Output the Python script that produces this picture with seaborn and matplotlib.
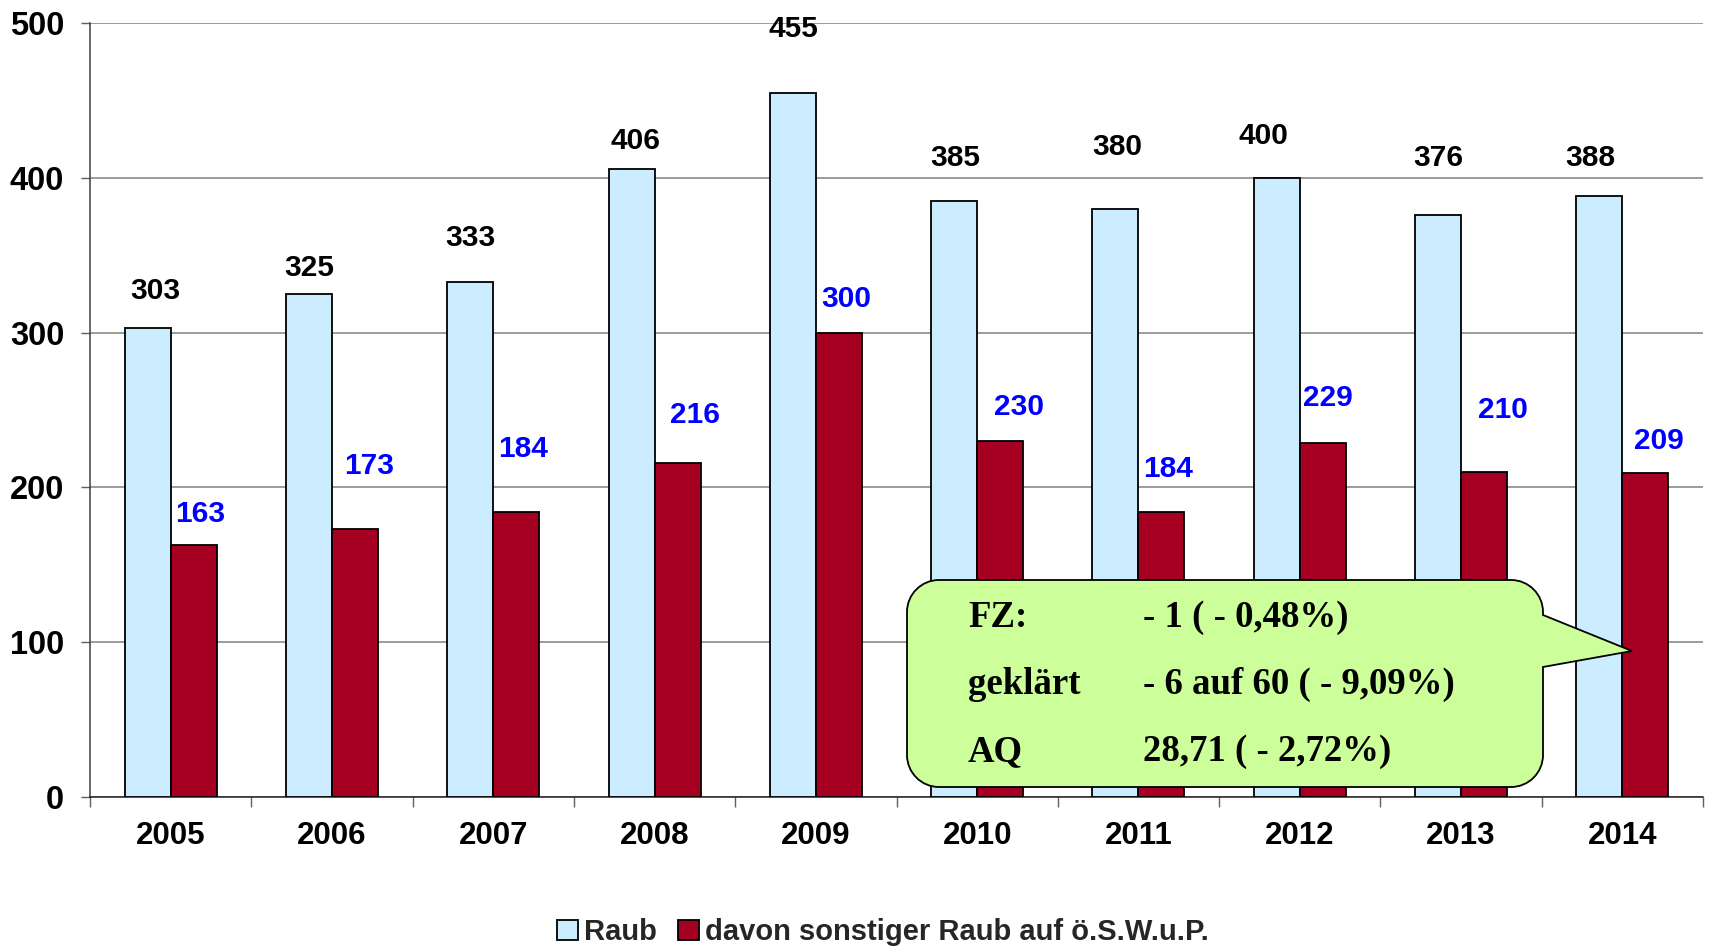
import matplotlib
matplotlib.use("Agg")
import matplotlib.pyplot as plt
import matplotlib.transforms as mtransforms
from matplotlib.path import Path
from matplotlib.patches import PathPatch, Patch
import seaborn as sns
import pandas as pd

# ---------------- data ----------------
years = ["2005", "2006", "2007", "2008", "2009", "2010", "2011", "2012", "2013", "2014"]
raub = [303, 325, 333, 406, 455, 385, 380, 400, 376, 388]
sonstiger = [163, 173, 184, 216, 300, 230, 184, 229, 210, 209]
series_names = ["Raub", "davon sonstiger Raub auf ö.S.W.u.P."]
y_ticks = [0, 100, 200, 300, 400, 500]

callout_rows = [("FZ:", "- 1 ( - 0,48%)"),
                ("geklärt", "- 6 auf 60 ( - 9,09%)"),
                ("AQ", "28,71 ( - 2,72%)")]

# label placement tweaks (style only): x shift in category units, y shift in value units
raub_lbl_dx = [0.05, 0, 0, 0.025, 0.005, 0.005, 0.01, -0.08, 0, -0.055]
raub_lbl_dy = [24, 17, 28, 18, 41, 28, 40, 27, 37, 25]
son_lbl_dx = [0.04, 0.09, 0.045, 0.11, 0.045, 0.12, 0.04, 0.03, 0.12, 0.085]
son_lbl_dy = [20, 41, 41, 31, 22, 22, 28, 29, 40, 21]

df = pd.DataFrame({
    "Jahr": years * 2,
    "Wert": raub + sonstiger,
    "Serie": [series_names[0]] * len(years) + [series_names[1]] * len(years),
})

colors = ["#CCECFF", "#A50021"]

sns.set_theme(style="white")
plt.rcParams["font.family"] = ["Liberation Sans", "DejaVu Sans"]
plt.rcParams["font.weight"] = "bold"

W, H = 1710, 952
fig = plt.figure(figsize=(W / 100, H / 100), dpi=100)
ax = fig.add_axes([90 / W, 1 - 797 / H, (1703 - 90) / W, (797 - 23) / H])

sns.barplot(data=df, x="Jahr", y="Wert", hue="Serie", palette=colors,
            width=0.57, gap=0, saturation=1, edgecolor="black",
            linewidth=1.3, ax=ax, legend=False, zorder=3)

ax.set_xlim(-0.5, len(years) - 0.5)
ax.set_ylim(0, 500)
ax.set_yticks(y_ticks)
ax.set_xlabel("")
ax.set_ylabel("")

ax.yaxis.grid(True, color="#808080", linewidth=1.1, zorder=0)
ax.xaxis.grid(False)
ax.set_axisbelow(True)

for s in ["top", "right"]:
    ax.spines[s].set_visible(False)
ax.spines["left"].set_color("#404040")
ax.spines["bottom"].set_color("#202020")
ax.spines["left"].set_linewidth(1.1)
ax.spines["bottom"].set_linewidth(1.1)

ax.tick_params(axis="y", which="major", length=6.5, width=1.0, color="#606060",
               direction="out", left=True, pad=12, labelsize=23.5)
ax.tick_params(axis="x", which="major", length=0, pad=17, labelsize=22.5)
ax.set_xticks([i - 0.5 for i in range(len(years) + 1)], minor=True)
ax.tick_params(axis="x", which="minor", length=7.5, width=1.0, color="#606060",
               direction="out", bottom=True)
for lbl in ax.get_xticklabels() + ax.get_yticklabels():
    lbl.set_fontweight("bold")
    lbl.set_color("black")

# data labels
half = 0.57 / 4
for i, (v1, v2) in enumerate(zip(raub, sonstiger)):
    ax.text(i - half + raub_lbl_dx[i], v1 + raub_lbl_dy[i], str(v1), ha="center",
            va="center", fontsize=21.5, fontweight="bold", color="black", zorder=5)
    ax.text(i + half + son_lbl_dx[i], v2 + son_lbl_dy[i], str(v2), ha="center",
            va="center", fontsize=21.5, fontweight="bold", color="#0000FF", zorder=5)

# legend
handles = [Patch(facecolor=c, edgecolor="black", linewidth=1.3) for c in colors]
fig.legend(handles, series_names, loc="center", bbox_to_anchor=(883 / W, 1 - 932 / H),
           ncol=2, frameon=False, handlelength=0.7, handleheight=0.7,
           handletextpad=0.2, columnspacing=0.75,
           prop={"weight": "bold", "size": 21, "family": "Liberation Sans"})

# callout (pixel coordinates, y upward)
px = mtransforms.Affine2D().scale(1 / W, 1 / H) + fig.transFigure
x0, x1, y0, y1, r = 907, 1543, H - 787, H - 580, 32
k = 0.5523 * r
pt_a, tip, pt_b = (x1, H - 615), (1632, H - 651), (x1, H - 667)
verts = [
    (x0 + r, y1), (x1 - r, y1),
    (x1 - r + k, y1), (x1, y1 - r + k), (x1, y1 - r),
    pt_a, tip, pt_b,
    (x1, y0 + r),
    (x1, y0 + r - k), (x1 - r + k, y0), (x1 - r, y0),
    (x0 + r, y0),
    (x0 + r - k, y0), (x0, y0 + r - k), (x0, y0 + r),
    (x0, y1 - r),
    (x0, y1 - r + k), (x0 + r - k, y1), (x0 + r, y1),
    (x0 + r, y1),
]
codes = ([Path.MOVETO, Path.LINETO] + [Path.CURVE4] * 3 + [Path.LINETO] * 4 +
         [Path.CURVE4] * 3 + [Path.LINETO] + [Path.CURVE4] * 3 + [Path.LINETO] +
         [Path.CURVE4] * 3 + [Path.CLOSEPOLY])
callout = PathPatch(Path(verts, codes), facecolor="#CCFF99", edgecolor="black",
                    linewidth=1.3, transform=px, zorder=10)
fig.add_artist(callout)

baselines = [627, 694, 761]
for (lab, val), yb in zip(callout_rows, baselines):
    for xx, t in ((968, lab), (1143, val)):
        fig.text(xx / W, 1 - yb / H, t, ha="left", va="baseline",
                 fontsize=26.5, fontweight="bold", family="Liberation Serif",
                 color="black", zorder=11)

fig.savefig("out.png", dpi=100)
